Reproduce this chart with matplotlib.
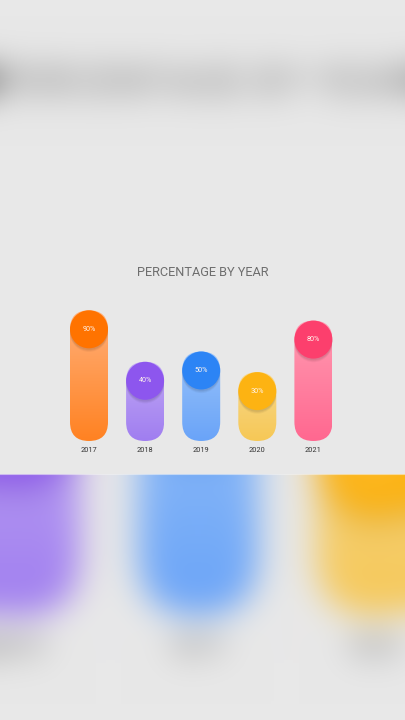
import numpy as np
import matplotlib
matplotlib.use("Agg")
import matplotlib.pyplot as plt
from matplotlib.patches import FancyBboxPatch, Circle

# data
years = ['2017', '2018', '2019', '2020', '2021']
values = [90, 40, 50, 30, 80]
title = 'PERCENTAGE BY YEAR'

# styles
dot_colors = ['#ff7300', '#8d56ee', '#2c84f5', '#fdb312', '#fc3f6d']
top_colors = ['#ffb07a', '#c0a8f5', '#98c2fa', '#f8d88c', '#ff9bb2']
low_colors = ['#ff8222', '#a07ef0', '#6aa4f8', '#f6c856', '#ff6890']
bg = '#e8e8e8'

PX = 1.03          # pixels per percent
step = 56.1 / PX   # distance between bars
r = 19 / PX        # bar half width


def hex2rgb(c):
    return np.array([int(c[i:i + 2], 16) for i in (1, 3, 5)]) / 255.0


def draw_chart(ax):
    ax.set_facecolor(bg)
    for i, v in enumerate(values):
        x = i * step
        pill = FancyBboxPatch((x - r, -r), 2 * r, v + 2 * r,
                              boxstyle="round,pad=0,rounding_size=%f" % r,
                              facecolor='none', edgecolor='none')
        ax.add_patch(pill)
        # vertical gradient of the body
        t = np.linspace(0, 1, 64)[:, None, None]
        grad = hex2rgb(top_colors[i]) * (1 - t) + hex2rgb(low_colors[i]) * t
        im = ax.imshow(grad, extent=[x - r, x + r, -r, v + r], aspect='auto',
                       interpolation='bilinear', zorder=2)
        im.set_clip_path(pill)
        # soft shadow under the dot
        for k, a in enumerate([0.05, 0.05, 0.04]):
            sh = Circle((x, v - 1.5 - k), r, facecolor='#000000', alpha=a,
                        edgecolor='none', zorder=3)
            ax.add_patch(sh)
            sh.set_clip_path(pill)
        ax.add_patch(Circle((x, v), r, facecolor=dot_colors[i],
                            edgecolor='none', zorder=4))
        ax.text(x, v, '%d%%' % v, ha='center', va='center', color='#fff4ec',
                fontsize=5.2, family='Roboto', zorder=5)
        ax.text(x, -29 / PX, years[i], ha='center', va='center',
                color='#333333', fontsize=5.3, family='Roboto')
    ax.text(113.5 / PX, 150 / PX, title, ha='center', va='center',
            color='#6e6e6e', fontsize=9.2, family='Roboto')
    ax.set_xlim(-89 / PX, (405 - 89) / PX)
    ax.set_ylim(-52 / PX, 176 / PX)
    ax.set_xticks([])
    ax.set_yticks([])
    for s in ax.spines.values():
        s.set_visible(False)


# render the chart once to make the blurred backdrop
f0 = plt.figure(figsize=(4.05, 2.28), dpi=100, facecolor=bg)
a0 = f0.add_axes([0, 0, 1, 1])
draw_chart(a0)
f0.canvas.draw()
frame = np.asarray(f0.canvas.buffer_rgba())[:, :, :3].astype(float) / 255
plt.close(f0)

fh, fw = frame.shape[:2]
sc = 720 / fh
iy = np.clip(((np.arange(720) + 0.5 - 360) / sc + fh / 2).astype(int), 0, fh - 1)
ix = np.clip(((np.arange(405) + 0.5 - 202.5) / sc + fw / 2).astype(int), 0, fw - 1)
back = frame[iy][:, ix]


def blur(a, s):
    t = np.arange(-3 * s, 3 * s + 1)
    k = np.exp(-0.5 * (t / s) ** 2)
    k /= k.sum()
    n = len(t) // 2
    h, w = a.shape[:2]
    p = np.pad(a, ((n, n), (0, 0), (0, 0)), mode='edge')
    a = sum(k[j] * p[j:j + h] for j in range(len(k)))
    p = np.pad(a, ((0, 0), (n, n), (0, 0)), mode='edge')
    a = sum(k[j] * p[:, j:j + w] for j in range(len(k)))
    return np.clip(a, 0, 1)


back = blur(back, 17)

fig = plt.figure(figsize=(4.05, 7.2), dpi=100, facecolor=bg)
axb = fig.add_axes([0, 0, 1, 1])
axb.imshow(back, aspect='auto', interpolation='bilinear')
axb.axis('off')

ax = fig.add_axes([0, (720 - 474) / 720, 1, 228 / 720])
draw_chart(ax)
fig.add_artist(plt.Line2D([0, 1], [(720 - 473.5) / 720] * 2, color='#f4f4f4',
                          lw=0.8, alpha=0.6))

fig.savefig('out.png', dpi=100, facecolor=bg)
